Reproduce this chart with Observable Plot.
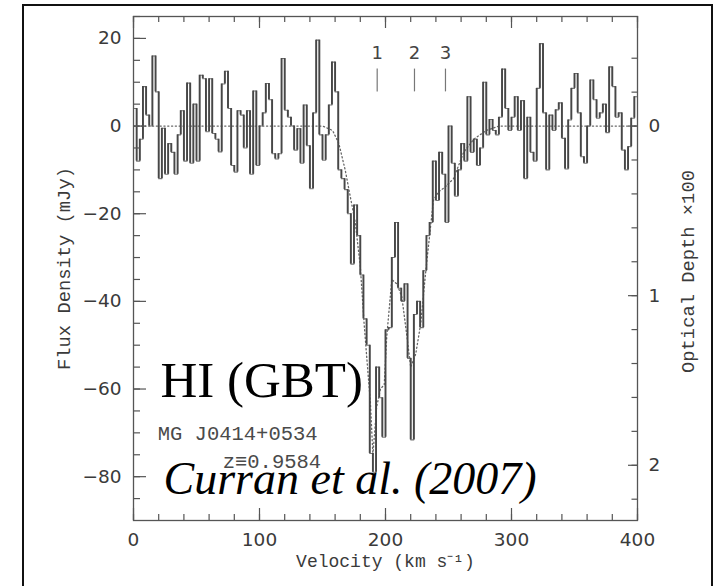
<!DOCTYPE html>
<html><head><meta charset="utf-8">
<script src="https://cdn.jsdelivr.net/npm/d3@7"></script>
<script src="https://cdn.jsdelivr.net/npm/@observablehq/plot@0.6"></script>
<style>
html,body{margin:0;padding:0;background:#fff;overflow:hidden;}
#wrap{position:relative;width:714px;height:586px;}
#border{position:absolute;left:22px;top:4px;width:687px;height:700px;border:2px solid #111;pointer-events:none;}
#chart{position:absolute;left:0;top:0;}
</style></head><body>
<div id="wrap"><div id="chart"></div><div id="border"></div></div>
<script>
// Spectrum: flux density (mJy) per 2.5 km/s channel
const channelWidth = 2.5;
const fluxBaselineLow = [4,-8,-3,9,2.5,0,16,7.8,-12,-0.5,-11,-4,-6,-11,-2,3.5,-8,9.8,-8.5,5,-8,
  11.6,10.8,-1.3,10.8,-1.7,-3,-5.9,9.6,12.5,
  4,-9,-10.5,3.5,2.5,-5,3.5,-11,8,-9,
  0,3,9.7,6,-6.3,-7.5,-6.3,15.4,3.6,2,0,-5.5,-0.6,-8.5,4.8,-4.5,-14.3,3,19.6,-2,-7.8,-2,4.8,14.6,7.8,-10];
const fluxAbsorption = [-12,-14.5,-20,-31.5,-18,-25,-34,-44,-50,-74.7,-79,-55,-62,-71,-46.5,-46,-30,-22,-37,-40,-36,-53,-71.6,-43,-40,-46,-33,-25,-22,-8];
const fluxRecovery = [-17,-6,-11,-22,0,-8.5,-16,-10,-4,-8,6.7,-6,-3,-9,-5,10,-2,1.5,-1,-2,2,13,4,-1,2,6.7,-1,5.8,-12,2];
const fluxBaselineHigh = [-6,-8,8.6,18.8,3,-10,2.5,-1,3.7,5.3,-2.8,-9.8,1.4,8.6,12,3,-7,-8.5,0,10.5,6,1.8,3,5,-1.5,13.5,9,2,3,-5.5,-10,-4.7,1.8,6.7];

// Dotted fitted profile
const modelVelocity = [0,150,158,163,168,172,176,180,183,186,188,190,193,196,199,201,205,209,213,217,220,224,228,232,235,238,242,247,254,262,270,280,290,400];
const modelFlux = [0,0,-1,-4,-10,-16,-22,-32,-45,-56,-63,-75,-64,-60,-59,-48,-35,-36,-39,-48,-55,-52,-45,-33,-25,-17,-15,-14,-12,-6,-3,-1,0,0];

// Velocity components
const compVelocity = [193.4, 223, 247.6];
const compLabel = ["1","2","3"];

// Axes
const xMajor = [0,100,200,300,400];
const yMajor = [-80,-60,-40,-20,0,20];
const depthTicks = [0,1,2];
const depthScale = 38.7; // mJy per unit of optical depth x100

const flux = [...fluxBaselineLow, ...fluxAbsorption, ...fluxRecovery, ...fluxBaselineHigh];
const spectrum = flux.map((f,i)=>({v:i*channelWidth, f}));
spectrum.push({v:flux.length*channelWidth, f:flux[flux.length-1]});
const jumps = flux.slice(1).map((f,i)=>({v:(i+1)*channelWidth, a:flux[i], b:f}));
const model = modelVelocity.map((v,i)=>({v, f:modelFlux[i]}));
const comps = compVelocity.map((v,i)=>({v, label:compLabel[i]}));

const xMinor = d3.range(0,401,20);
const yMinor = d3.range(-85,26,5);
const depthMinor = d3.range(-2,12).map(k=>k*0.2);

const W=714,H=586,mL=133,mR=77,mT=16,mB=66;
const plotW=W-mL-mR, plotH=H-mT-mB;
const tc="#555", tw=1.2;
const monoFont="Liberation Mono";
const txt="#3a3a3a";

const chart = Plot.plot({
  width:W, height:H, marginLeft:mL, marginRight:mR, marginTop:mT, marginBottom:mB,
  x:{domain:[0,400]}, y:{domain:[-90,25]},
  style:{fontFamily:"DejaVu Sans", fontSize:"18.5px", color:txt, background:"transparent"},
  marks:[
    Plot.line(model,{x:"v",y:"f",stroke:"#666",strokeWidth:1.3,strokeDasharray:"1.2 2.6"}),
    Plot.line(spectrum,{x:"v",y:"f",curve:"step-after",stroke:"#777",strokeWidth:1.1}),
    Plot.ruleX(jumps,{x:"v",y1:"a",y2:"b",stroke:"#474747",strokeWidth:1.9}),
    Plot.frame({stroke:tc,strokeWidth:1.3}),
    // bottom/top ticks
    Plot.tickX(xMinor,{x:d=>d,insetTop:plotH-6,stroke:tc,strokeWidth:tw}),
    Plot.tickX(xMajor,{x:d=>d,insetTop:plotH-12,stroke:tc,strokeWidth:tw}),
    Plot.tickX(xMinor,{x:d=>d,insetBottom:plotH-6,stroke:tc,strokeWidth:tw}),
    Plot.tickX(xMajor,{x:d=>d,insetBottom:plotH-12,stroke:tc,strokeWidth:tw}),
    // left ticks
    Plot.tickY(yMinor,{y:d=>d,insetRight:plotW-7,stroke:tc,strokeWidth:tw}),
    Plot.tickY(yMajor,{y:d=>d,insetRight:plotW-13,stroke:tc,strokeWidth:tw}),
    // right ticks (optical depth)
    Plot.tickY(depthMinor,{y:d=>-d*depthScale,insetLeft:plotW-5.5,stroke:tc,strokeWidth:tw}),
    Plot.tickY(depthTicks,{y:d=>-d*depthScale,insetLeft:plotW-9,stroke:tc,strokeWidth:tw}),
    Plot.axisX({ticks:xMajor,tickSize:0,tickPadding:12,label:null}),
    Plot.axisY({anchor:"left",ticks:yMajor,tickSize:0,tickPadding:12,label:null}),
    Plot.axisY({anchor:"right",ticks:depthTicks.map(d=>-d*depthScale),tickSize:0,tickPadding:11,
      tickFormat:f=>String(Math.round(-f/depthScale)),label:null}),
    // axis titles
    Plot.text(["Flux Density (mJy)"],{frameAnchor:"left",textAnchor:"middle",dx:-70,rotate:-90,text:d=>d,fontFamily:monoFont,fontSize:18.8,fill:txt}),
    Plot.text(["Velocity (km s⁻¹)"],{frameAnchor:"bottom",textAnchor:"middle",dy:46,text:d=>d,fontFamily:monoFont,fontSize:18,fill:txt}),
    Plot.text(["Optical Depth ×100"],{frameAnchor:"right",textAnchor:"middle",dx:50,dy:3,rotate:-90,text:d=>d,fontFamily:monoFont,fontSize:18.8,fill:txt}),
    // components
    Plot.ruleX(comps,{x:"v",y1:d=>7.8,y2:d=>13,stroke:"#777",strokeWidth:1.2}),
    Plot.text(comps,{x:"v",y:d=>16.6,text:"label",fontSize:18,fill:"#444"}),
    // annotations
    Plot.text([{x:19.2,y:-71.6,t:"MG J0414+0534"}],{x:"x",y:"y",text:"t",textAnchor:"start",lineAnchor:"bottom",fontFamily:monoFont,fontSize:20.5,fill:"#4a4a4a"}),
    Plot.text([{x:148.9,y:-78.0,t:"z≡0.9584"}],{x:"x",y:"y",text:"t",textAnchor:"end",lineAnchor:"bottom",fontFamily:monoFont,fontSize:20.5,fill:"#4a4a4a"}),
    Plot.text([{x:21.4,y:-61.8,t:"HI (GBT)"}],{x:"x",y:"y",text:"t",textAnchor:"start",lineAnchor:"bottom",fontFamily:"Liberation Serif",fontSize:51,fill:"#000"}),
    Plot.text([{x:23.8,y:-83.9,t:"Curran et al. (2007)"}],{x:"x",y:"y",text:"t",textAnchor:"start",lineAnchor:"bottom",fontFamily:"Liberation Serif",fontStyle:"italic",fontSize:46,fill:"#000"})
  ]
});
document.getElementById("chart").appendChild(chart);
</script></body></html>
